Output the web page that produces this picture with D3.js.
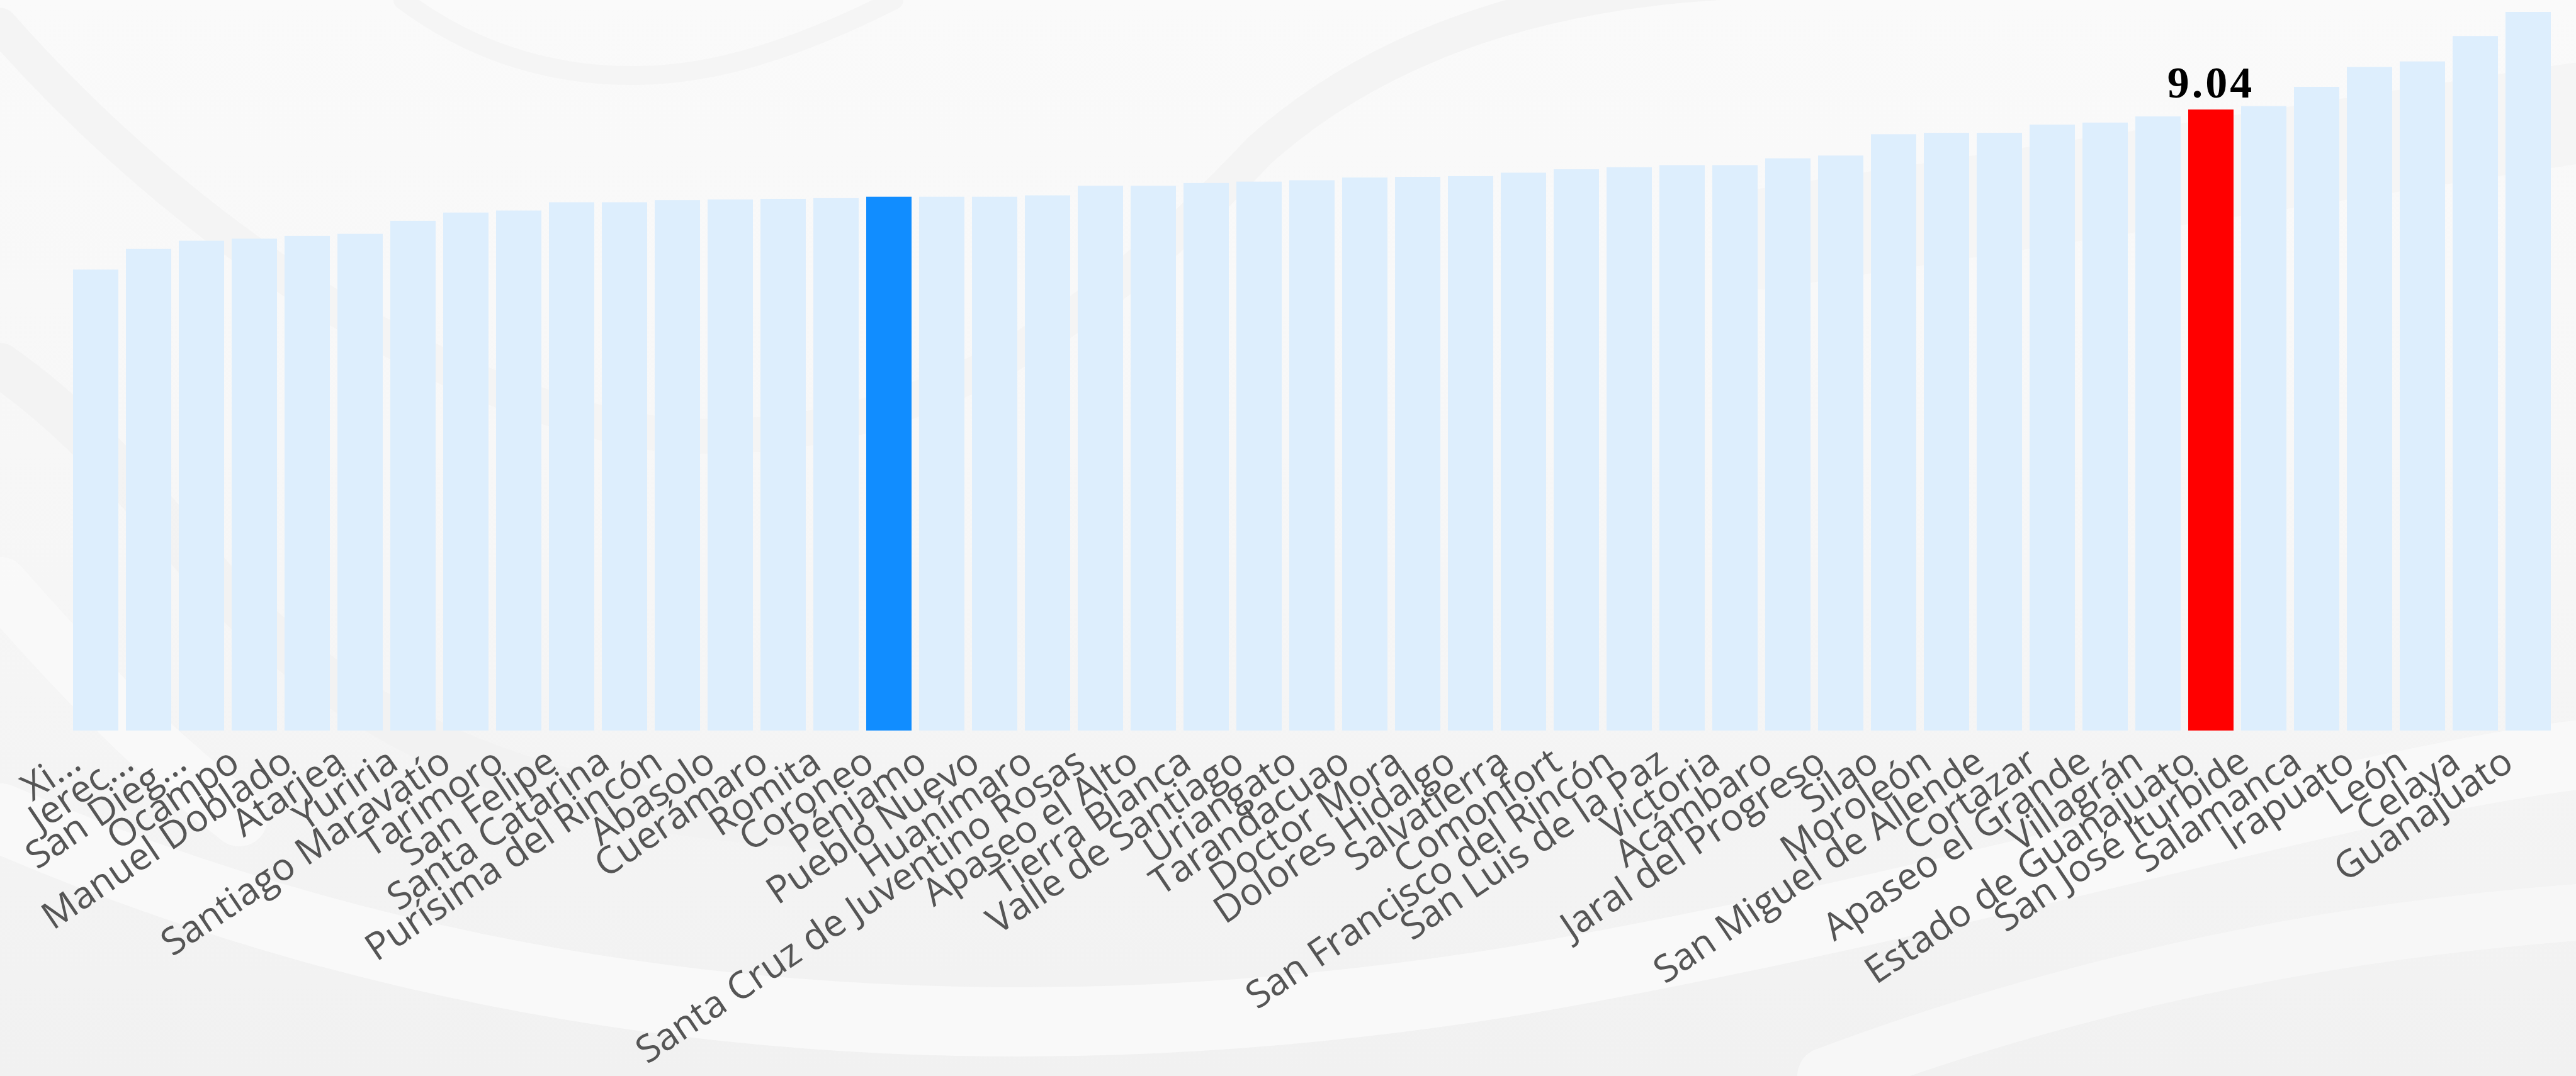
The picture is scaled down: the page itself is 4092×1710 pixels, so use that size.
<!DOCTYPE html>
<html>
<head>
<meta charset="utf-8">
<script src="https://cdn.jsdelivr.net/npm/d3@7"></script>
<style>
  html, body { margin: 0; padding: 0; background: #f5f5f5; }
  svg { display: block; }
</style>
</head>
<body>
<svg id="chart" width="4092" height="1710"></svg>
<script>
const categories = [
  "Xi...", "Jerec...", "San Dieg...", "Ocampo", "Manuel Doblado", "Atarjea", "Yuriria",
  "Santiago Maravatío", "Tarimoro", "San Felipe", "Santa Catarina", "Purísima del Rincón",
  "Abasolo", "Cuerámaro", "Romita", "Coroneo", "Pénjamo", "Pueblo Nuevo", "Huanímaro",
  "Santa Cruz de Juventino Rosas", "Apaseo el Alto", "Tierra Blanca", "Valle de Santiago",
  "Uriangato", "Tarandacuao", "Doctor Mora", "Dolores Hidalgo", "Salvatierra", "Comonfort",
  "San Francisco del Rincón", "San Luis de la Paz", "Victoria", "Acámbaro",
  "Jaral del Progreso", "Silao", "Moroleón", "San Miguel de Allende", "Cortazar",
  "Apaseo el Grande", "Villagrán", "Estado de Guanajuato", "San José Iturbide",
  "Salamanca", "Irapuato", "León", "Celaya", "Guanajuato"
];
const values = [
  6.71, 7.01, 7.13, 7.16, 7.20, 7.23, 7.42,
  7.54, 7.57, 7.69, 7.69, 7.72,
  7.73, 7.74, 7.75, 7.77, 7.77, 7.77, 7.79,
  7.93, 7.93, 7.97, 7.99,
  8.01, 8.05, 8.06, 8.07, 8.12, 8.17,
  8.20, 8.23, 8.23, 8.33,
  8.37, 8.68, 8.70, 8.70, 8.82,
  8.85, 8.94, 9.04, 9.09,
  9.37, 9.66, 9.74, 10.11, 10.46
];
const selectedCategory = "Coroneo";
const stateCategory = "Estado de Guanajuato";
const labelledCategories = ["Estado de Guanajuato"];

const W = 4092, H = 1710;
const svg = d3.select("#chart");

// ---- background ----
const defs = svg.append("defs");
const g1 = defs.append("linearGradient").attr("id", "bg").attr("x1", 0).attr("y1", 0).attr("x2", 0).attr("y2", 1);
g1.append("stop").attr("offset", "0%").attr("stop-color", "#fafafa");
g1.append("stop").attr("offset", "55%").attr("stop-color", "#f6f6f6");
g1.append("stop").attr("offset", "100%").attr("stop-color", "#f1f1f1");
svg.append("rect").attr("width", W).attr("height", H).attr("fill", "url(#bg)");

const deco = svg.append("g").attr("fill", "none");
const arcs = [
  {d: "M0,40 C300,380 700,640 1050,690 C1400,720 1700,560 2000,240 C2200,60 2500,-40 2900,-30", c: "#f3f3f3", w: 55},
  {d: "M640,0 C800,120 1000,150 1200,90 C1300,60 1380,20 1420,0", c: "#f4f4f4", w: 30},
  {d: "M0,580 C200,720 300,900 420,1000 C700,1250 1000,1300 1400,1320", c: "#f2f2f2", w: 70},
  {d: "M0,1300 C600,1560 1400,1720 2400,1560 C3100,1440 3700,1250 4092,1200", c: "#f9f9f9", w: 110},
  {d: "M2900,1710 C3300,1560 3700,1480 4092,1450", c: "#f7f7f7", w: 90},
  {d: "M2800,380 C3300,300 3700,240 4092,180", c: "#f4f4f4", w: 160},
  {d: "M0,930 C150,1100 250,1200 380,1300", c: "#fafafa", w: 90}
];
deco.selectAll("path").data(arcs).join("path")
  .attr("d", d => d.d).attr("stroke", d => d.c).attr("stroke-width", d => d.w)
  .attr("stroke-linecap", "round").attr("opacity", 0.9);

// ---- scales ----
const x = d3.scaleBand()
  .domain(categories)
  .range([110, 110 + 84 * categories.length])
  .paddingInner(12 / 84)
  .paddingOuter(6 / 84);

const y = d3.scaleLinear()
  .domain([0, d3.max(values)])
  .range([1161, 19]);

const data = categories.map((c, i) => ({ name: c, value: values[i] }));

const colorOf = d => d.name === stateCategory ? "#ff0000"
                   : d.name === selectedCategory ? "#118dff" : "#ddeefd";

svg.append("g").selectAll("rect").data(data).join("rect")
  .attr("x", d => x(d.name))
  .attr("y", d => y(d.value))
  .attr("width", x.bandwidth())
  .attr("height", d => y(0) - y(d.value))
  .attr("fill", colorOf);

// ---- value label ----
svg.append("g").selectAll("text").data(data.filter(d => labelledCategories.includes(d.name))).join("text")
  .attr("x", d => x(d.name) + x.bandwidth() / 2)
  .attr("y", d => y(d.value) - 19)
  .attr("text-anchor", "middle")
  .attr("font-family", "'Liberation Serif', 'Times New Roman', serif")
  .attr("font-weight", "bold")
  .attr("font-size", 70)
  .attr("letter-spacing", 4)
  .attr("fill", "#000")
  .text(d => d.value.toFixed(2));

// ---- x axis labels ----
const xAxis = d3.axisBottom(x).tickSize(0).tickPadding(0);
const axisG = svg.append("g").attr("transform", `translate(0,${y(0)})`).call(xAxis);
axisG.select(".domain").remove();
axisG.selectAll(".tick text")
  .attr("font-family", "'Open Sans', 'Noto Sans', sans-serif")
  .attr("font-size", 60)
  .attr("fill", "#555555")
  .attr("text-anchor", "end")
  .attr("dy", 0)
  .attr("y", 0)
  .attr("transform", "translate(-20,59) rotate(-34)");
</script>
</body>
</html>
